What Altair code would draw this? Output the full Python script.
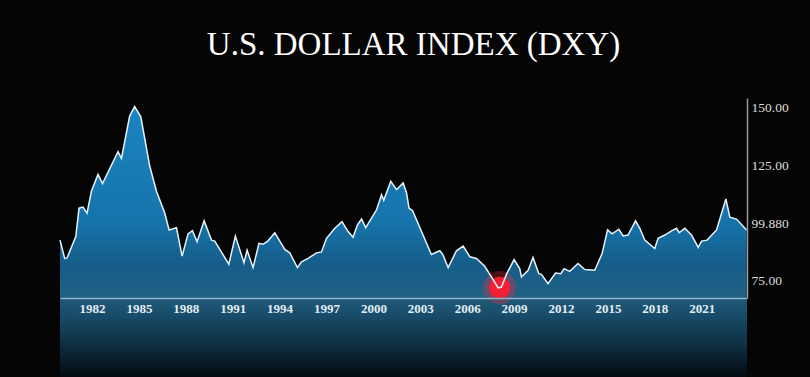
import altair as alt
import pandas as pd

# Decimal year of each vertex of the DXY curve
years = [1979.95, 1980.25, 1980.40, 1980.96, 1981.17, 1981.42, 1981.68, 1981.96, 1982.38, 1982.67,
         1983.66, 1983.88, 1984.41, 1984.73, 1985.12, 1985.69, 1986.12, 1986.65, 1986.93, 1987.40,
         1987.76, 1988.14, 1988.42, 1988.72, 1989.17, 1989.64, 1989.85, 1990.75, 1991.17, 1991.72,
         1991.92, 1992.30, 1992.68, 1992.94, 1993.26, 1993.69, 1994.33, 1994.65, 1995.14, 1995.40,
         1995.82, 1996.36, 1996.68, 1997.00, 1997.53, 1997.99, 1998.38, 1998.70, 1998.98, 1999.24,
         1999.51, 2000.20, 2000.52, 2000.66, 2001.11, 2001.48, 2001.90, 2002.12, 2002.28, 2002.50,
         2003.71, 2004.25, 2004.46, 2004.78, 2005.31, 2005.74, 2006.17, 2006.59, 2007.12, 2007.55,
         2007.98, 2008.19, 2008.51, 2009.00, 2009.36, 2009.47, 2009.90, 2010.21, 2010.58, 2010.75,
         2011.17, 2011.65, 2011.99, 2012.20, 2012.56, 2013.09, 2013.52, 2014.16, 2014.63, 2014.98,
         2015.27, 2015.70, 2015.97, 2016.29, 2016.77, 2017.04, 2017.36, 2018.00, 2018.21, 2018.64,
         2019.07, 2019.39, 2019.56, 2019.92, 2020.35, 2020.78, 2020.99, 2021.35, 2021.95, 2022.55,
         2022.80, 2023.23, 2023.87]

dxy = [92.6, 84.7, 84.9, 94.1, 106.4, 106.9, 104.3, 113.7, 121.0, 117.0,
       130.8, 127.9, 146.3, 150.3, 145.9, 124.6, 113.7, 104.3, 97.0, 98.0,
       85.7, 95.3, 96.7, 91.9, 101.0, 92.6, 92.2, 82.2, 94.4, 82.8,
       88.3, 80.7, 91.2, 90.8, 92.3, 95.8, 88.6, 87.1, 80.7, 83.2,
       84.7, 87.1, 87.5, 93.4, 97.7, 100.6, 96.3, 93.8, 99.2, 101.7,
       98.0, 105.7, 112.2, 109.8, 118.0, 114.4, 117.3, 113.0, 106.4, 105.4,
       86.4, 88.0, 86.1, 80.7, 88.0, 90.0, 85.4, 84.7, 81.3, 76.7,
       72.0, 72.3, 77.8, 84.2, 80.3, 76.7, 79.6, 85.1, 78.1, 77.8,
       73.8, 78.4, 78.1, 80.3, 79.1, 82.5, 79.9, 79.6, 86.8, 97.0,
       95.3, 97.3, 94.4, 94.8, 100.9, 97.7, 92.6, 89.0, 93.4, 94.8,
       96.6, 97.7, 95.8, 97.7, 94.8, 89.5, 92.2, 92.6, 97.0, 110.4,
       102.5, 101.7, 97.0]

x_tick_years = [1982, 1985, 1988, 1991, 1994, 1997, 2000, 2003, 2006, 2009, 2012, 2015, 2018, 2021]
y_tick_values = [75, 99.88, 125, 150]
y_floor = 67.6
x_domain = [1979.95, 2023.9]

low_year = [2008.08]
low_value = [72.1]

df = pd.DataFrame({"year": years, "value": dxy})
df_low = pd.DataFrame({"year": low_year, "value": low_value})

SERIF = "Liberation Serif"

x_enc = alt.X(
    "year:Q",
    scale=alt.Scale(domain=x_domain, nice=False, zero=False),
    axis=alt.Axis(
        values=x_tick_years, format="d", title=None, grid=False, ticks=False,
        domainColor="#8fb3cc", domainWidth=1.5, zindex=1,
        labelFont=SERIF, labelFontSize=13, labelFontWeight="bold",
        labelColor="#e2edf5", labelPadding=4,
    ),
)
y_enc = alt.Y(
    "value:Q",
    scale=alt.Scale(domain=[y_floor, 154], nice=False, zero=False),
    axis=alt.Axis(
        orient="right", values=y_tick_values, title=None, grid=False, ticks=False,
        domainColor="#9a9a9a", domainWidth=1.5, zindex=1,
        labelExpr="datum.value == 99.88 ? '99.880' : format(datum.value, '.2f')",
        labelFont=SERIF, labelFontSize=13.5, labelColor="#dcdcdc", labelPadding=4,
    ),
)

area_gradient = alt.Gradient(
    gradient="linear",
    stops=[
        alt.GradientStop(color="#1b84c2", offset=0),
        alt.GradientStop(color="#1674ab", offset=0.6),
        alt.GradientStop(color="#155e8a", offset=0.82),
        alt.GradientStop(color="#1c5f86", offset=0.93),
        alt.GradientStop(color="#216081", offset=1),
    ],
    x1=0, x2=0, y1=0, y2=1,
)

reflection_gradient = alt.Gradient(
    gradient="linear",
    stops=[
        alt.GradientStop(color="#1f5a7a", offset=0),
        alt.GradientStop(color="#174a66", offset=0.25),
        alt.GradientStop(color="#0f3246", offset=0.55),
        alt.GradientStop(color="#081c29", offset=0.8),
        alt.GradientStop(color="#040a0f", offset=1),
    ],
    x1=0, x2=0, y1=0, y2=1,
)

area = alt.Chart(df).mark_area(color=area_gradient, interpolate="linear").encode(
    x=x_enc, y=y_enc, y2=alt.datum(y_floor)
)

reflection = alt.Chart(df_low).mark_rect(color=reflection_gradient).encode(
    x=alt.datum(x_domain[0]), x2=alt.datum(x_domain[1]),
    y=alt.value(200), y2=alt.value(279),
)

line = alt.Chart(df).mark_line(color="#e6f3ff", strokeWidth=1.5, interpolate="linear").encode(
    x=x_enc, y=y_enc
)

glow_outer = alt.Chart(df_low).mark_circle(color="#ff2a3a", opacity=0.3, size=1100).encode(
    x=x_enc, y=y_enc
)
glow_inner = alt.Chart(df_low).mark_circle(color="#ff1c30", opacity=0.92, size=460).encode(
    x=x_enc, y=y_enc
)

chart = (
    alt.layer(reflection, area, glow_outer, glow_inner, line)
    .properties(
        width=687, height=200,
        autosize=alt.AutoSizeParams(type="none"),
        padding={"left": 60, "top": 98, "right": 63, "bottom": 79},
        background="#050505",
        title=alt.TitleParams(
            "U.S. DOLLAR INDEX (DXY)", font=SERIF, fontSize=33, fontWeight="normal",
            color="#ffffff", anchor="middle", dx=10, offset=36,
        ),
    )
    .configure_view(stroke=None)
)

chart.save("out.html", embed_options={"renderer": "svg", "actions": False})
